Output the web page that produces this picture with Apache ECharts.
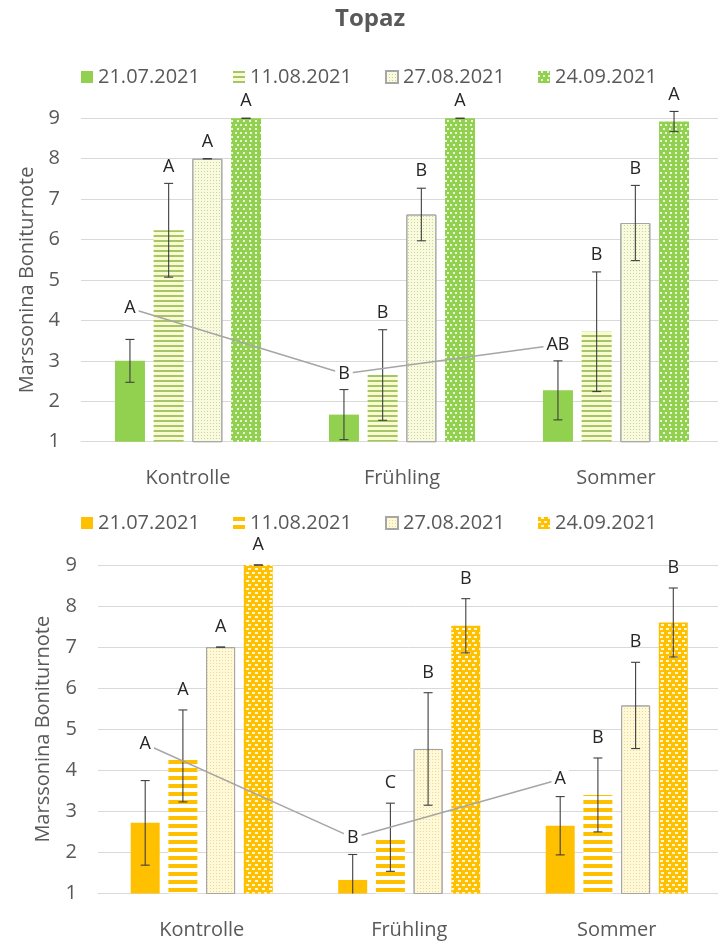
<!DOCTYPE html>
<html><head><meta charset="utf-8">
<script src="https://cdn.jsdelivr.net/npm/echarts@6/dist/echarts.min.js"></script>
<style>html,body{margin:0;padding:0;background:#fff}#c{width:718px;height:941px}</style>
</head><body><div id="c"></div>
<script>
// ---------- data ----------
const titleText = 'Topaz';
const yAxisName = 'Marssonina Boniturnote';
const categories = ['Kontrolle', 'Frühling', 'Sommer'];
const dates = ['21.07.2021', '11.08.2021', '27.08.2021', '24.09.2021'];
const yTicks = [1, 9, 1]; // min, max, interval

// top chart (green) : one array per date, values for Kontrolle, Frühling, Sommer
const topMean_0721 = [3.0, 1.67, 2.27];
const topMean_1108 = [6.23, 2.65, 3.72];
const topMean_2708 = [8.0, 6.62, 6.41];
const topMean_2409 = [9.0, 9.0, 8.92];
const topErr_0721 = [0.53, 0.62, 0.73];
const topErr_1108 = [1.16, 1.12, 1.48];
const topErr_2708 = [0, 0.65, 0.93];
const topErr_2409 = [0, 0, 0.25];
const topLetters_0721 = ['A', 'B', 'AB'];
const topLetters_1108 = ['A', 'B', 'B'];
const topLetters_2708 = ['A', 'B', 'B'];
const topLetters_2409 = ['A', 'A', 'A'];
const topTrend = [4.3, 2.68, 3.4];

// bottom chart (orange)
const botMean_0721 = [2.72, 1.33, 2.65];
const botMean_1108 = [4.35, 2.37, 3.4];
const botMean_2708 = [7.0, 4.52, 5.58];
const botMean_2409 = [9.0, 7.52, 7.6];
const botErr_0721 = [1.03, 0.62, 0.71];
const botErr_1108 = [1.12, 0.83, 0.9];
const botErr_2708 = [0, 1.37, 1.05];
const botErr_2409 = [0, 0.66, 0.84];
const botLetters_0721 = ['A', 'B', 'A'];
const botLetters_1108 = ['A', 'C', 'B'];
const botLetters_2708 = ['A', 'B', 'B'];
const botLetters_2409 = ['A', 'B', 'B'];
const botTrend = [4.64, 2.36, 3.78];

// ---------- styling ----------
const FONT = '"Open Sans", "Noto Sans", sans-serif';
const TXT = '#595959';
const GRIDC = '#D9D9D9';

const topStyles = [
  { color: '#92D050' },
  { color: '#FBFBD2', decal: { symbol: 'rect', symbolSize: 1, color: '#A6C46A', dashArrayX: [1, 0], dashArrayY: [2, 2.2] } },
  { color: '#FAFADF', borderColor: '#A6A6A6', borderWidth: 1, decal: { symbol: 'rect', symbolSize: 1, color: '#C3D59A', dashArrayX: [1, 1.2], dashArrayY: [1, 1.2] } },
  { color: '#92D050', decal: { symbol: 'rect', symbolSize: 1, color: 'rgba(255,255,255,0.8)', dashArrayX: [[2, 2.2], [0, 2.1, 2, 0.1]], dashArrayY: [1.5, 1.2] } }
];
const botStyles = [
  { color: '#FFC000' },
  { color: '#FFFFFF', decal: { symbol: 'rect', symbolSize: 1, color: '#FFC000', dashArrayX: [1, 0], dashArrayY: [3.5, 3.2] } },
  { color: '#FFF9D8', borderColor: '#A6A6A6', borderWidth: 1, decal: { symbol: 'rect', symbolSize: 1, color: '#EBD898', dashArrayX: [1, 1.2], dashArrayY: [1, 1.2] } },
  { color: '#FFC000', decal: { symbol: 'rect', symbolSize: 1, color: 'rgba(255,255,255,0.85)', dashArrayX: [[2.5, 2.8], [0, 2.65, 2.5, 0.15]], dashArrayY: [1.8, 1.4] } }
];

const charts = [
  { key: 'top', means: [topMean_0721, topMean_1108, topMean_2708, topMean_2409],
    errs: [topErr_0721, topErr_1108, topErr_2708, topErr_2409],
    letters: [topLetters_0721, topLetters_1108, topLetters_2708, topLetters_2409],
    trend: topTrend, styles: topStyles, bw: 30, gap: 0.29, labOff: 17 },
  { key: 'bot', means: [botMean_0721, botMean_1108, botMean_2708, botMean_2409],
    errs: [botErr_0721, botErr_1108, botErr_2708, botErr_2409],
    letters: [botLetters_0721, botLetters_1108, botLetters_2708, botLetters_2409],
    trend: botTrend, styles: botStyles, bw: 29, gap: 0.30, labOff: 20 }
];

const grids = [
  { left: 81, top: 118.3, width: 642, height: 323.4, outerBoundsMode: 'none', containLabel: false },
  { left: 98, top: 565, width: 622.5, height: 328.5, outerBoundsMode: 'none', containLabel: false }
];

function xAx(gi) {
  return {
    type: 'category', gridIndex: gi, data: categories,
    axisTick: { show: false },
    axisLine: { lineStyle: { color: GRIDC, width: 1 } },
    axisLabel: { color: TXT, fontSize: 20, fontFamily: FONT, margin: 27 }
  };
}
function yAx(gi, gap) {
  return {
    type: 'value', gridIndex: gi, min: yTicks[0], max: yTicks[1], interval: yTicks[2],
    name: yAxisName, nameLocation: 'middle', nameGap: gap, nameRotate: 90,
    nameTextStyle: { color: TXT, fontSize: 20, fontFamily: FONT },
    axisLine: { show: false }, axisTick: { show: false },
    axisLabel: { color: TXT, fontSize: 20, fontFamily: FONT, margin: 21 },
    splitLine: { lineStyle: { color: GRIDC, width: 1 } }
  };
}

const series = [];
const legends = [];
charts.forEach((ch, gi) => {
  const names = dates.map(d => ch.key + '|' + d);
  legends.push({
    data: names, left: 76, top: gi === 0 ? 62 : 508, icon: 'rect',
    itemWidth: 12, itemHeight: 12, itemGap: 33,
    formatter: n => n.split('|')[1],
    textStyle: { color: TXT, fontSize: 20, fontFamily: FONT }
  });
  dates.forEach((d, s) => {
    series.push({
      type: 'bar', name: names[s], xAxisIndex: gi, yAxisIndex: gi,
      data: ch.means[s], barWidth: ch.bw, barGap: (ch.gap * 100) + '%',
      itemStyle: ch.styles[s], z: 2, emphasis: { disabled: true }
    });
    // error bars + letters
    series.push({
      type: 'custom', xAxisIndex: gi, yAxisIndex: gi, z: 4, silent: true,
      data: categories.map((c, i) => [i, ch.means[s][i], ch.errs[s][i]]),
      renderItem: (params, api) => {
        const i = api.value(0), m = api.value(1), e = api.value(2);
        const dx = (s - 1.5) * ch.bw * (1 + ch.gap);
        const x = api.coord([i, m])[0] + dx;
        const yT = api.coord([i, m + e])[1];
        const lowV = m - e;
        const yB = api.coord([i, Math.max(lowV, yTicks[0])])[1];
        const st = { stroke: '#3F3F3F', lineWidth: 1.1 };
        const kids = [
          { type: 'line', shape: { x1: x, y1: yT, x2: x, y2: yB }, style: st },
          { type: 'line', shape: { x1: x - 4.5, y1: yT, x2: x + 4.5, y2: yT }, style: st }
        ];
        if (lowV >= yTicks[0]) kids.push({ type: 'line', shape: { x1: x - 4.5, y1: yB, x2: x + 4.5, y2: yB }, style: st });
        if (s > 0) kids.push({ type: 'text', x: x, y: yT - ch.labOff,
          style: { text: ch.letters[s][params.dataIndex], fill: '#262626', font: '18px ' + FONT, align: 'center', verticalAlign: 'middle' } });
        return { type: 'group', children: kids };
      }
    });
  });
  // trend line connecting the first-date letters
  series.push({
    type: 'custom', xAxisIndex: gi, yAxisIndex: gi, z: 5, silent: true,
    data: categories.map((c, i) => [i, ch.trend[i]]),
    renderItem: (params, api) => {
      const i = params.dataIndex;
      const dx = -1.5 * ch.bw * (1 + ch.gap);
      const p = api.coord([i, ch.trend[i]]);
      const kids = [];
      if (i < ch.trend.length - 1) {
        const q = api.coord([i + 1, ch.trend[i + 1]]);
        kids.push({ type: 'line', shape: { x1: p[0] + dx, y1: p[1], x2: q[0] + dx, y2: q[1] },
          style: { stroke: '#A6A6A6', lineWidth: 1.5 } });
      }
      kids.push({ type: 'text', x: p[0] + dx, y: p[1], z2: 10,
        style: { text: ch.letters[0][i], fill: '#262626', font: '18px ' + FONT, align: 'center', verticalAlign: 'middle',
          backgroundColor: '#fff', padding: [1, 3] } });
      return { type: 'group', children: kids };
    }
  });
});

const option = {
  backgroundColor: '#fff',
  animation: false,
  title: { text: titleText, left: 330, top: 2, textStyle: { color: TXT, fontSize: 24, fontWeight: 'bold', fontFamily: FONT } },
  legend: legends,
  grid: grids,
  xAxis: [xAx(0), xAx(1)],
  yAxis: [yAx(0, 42), yAx(1, 45)],
  series: series
};
const chart = echarts.init(document.getElementById('c'));
chart.setOption(option);
</script></body></html>
